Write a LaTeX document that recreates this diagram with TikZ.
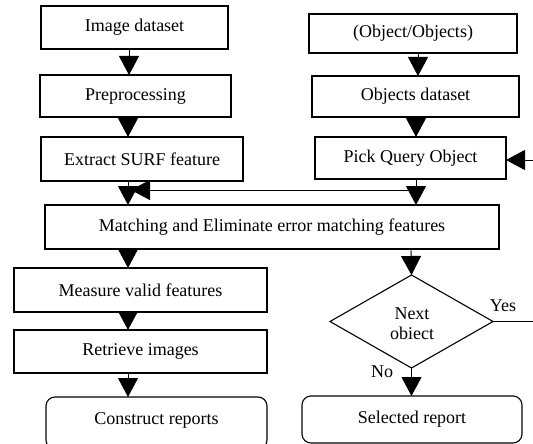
\documentclass[tikz,border=0pt]{standalone}
\usepackage{fontspec}
\setmainfont{Liberation Serif}
\usetikzlibrary{arrows.meta,shapes.geometric}
\begin{document}
\begin{tikzpicture}[x=1pt,y=-1pt,
  every node/.style={font=\fontsize{18}{20}\selectfont, inner sep=0pt, outer sep=0pt},
  box/.style={draw, line width=2.6pt, align=center},
  rbox/.style={draw, line width=1.1pt, rounded corners=9pt, align=center},
  arr/.style={line width=0.9pt, -{Triangle[length=19pt,width=20pt]}},
  plain/.style={line width=0.9pt}]
\useasboundingbox (0,0) rectangle (533,444);
\node[box, minimum width=187pt, minimum height=43pt] (img) at (134.5,27.5) {Image dataset};
\node[box, minimum width=191pt, minimum height=42pt] (pre) at (135.5,96) {Preprocessing};
\node[box, minimum width=202pt, minimum height=44pt] (surf) at (142,159) {Extract SURF feature};
\node[box, minimum width=208pt, minimum height=39pt] (obj) at (413,33.5) {(Object/Objects)};
\node[box, minimum width=207pt, minimum height=41pt] (objd) at (415.5,96.5) {Objects dataset};
\node[box, minimum width=191pt, minimum height=42pt] (pick) at (410.5,158) {Pick Query Object};
\node[box, minimum width=454pt, minimum height=44pt] (match) at (272,227) {Matching and Eliminate error matching features};
\node[box, minimum width=253pt, minimum height=44pt] (meas) at (140.5,290) {Measure valid features};
\node[box, minimum width=253pt, minimum height=43pt] (retr) at (140.5,351.5) {Retrieve images};
\node[rbox, minimum width=221pt, minimum height=52pt] (cons) at (156.5,423) {};
\node (consT) at (156.5,420) {Construct reports};
\node[rbox, minimum width=220pt, minimum height=47pt] (sel) at (412,419.5) {Selected report};
\node[diamond, draw, line width=1.1pt, aspect=1.75, minimum width=163pt, minimum height=93pt, align=center] (dia) at (411.5,321.5) {};
\node[align=center] (diaT) at (412,324) {Next\\obiect};
\node (yes) at (503,306) {Yes};
\node (no) at (382,372) {No};
% connectors
\draw[arr] ([xshift=-5.5pt]img.south) -- ([xshift=-5.5pt]img.south |- pre.north);
\draw[arr] ([xshift=-7.5pt]pre.south) -- ([xshift=-7.5pt]pre.south |- surf.north);
\draw[arr] ([xshift=5pt]obj.south) -- ([xshift=5pt]obj.south |- objd.north);
\draw[arr] ([xshift=0.5pt]objd.south) -- ([xshift=0.5pt]objd.south |- pick.north);
\draw[arr] ([xshift=-14pt]surf.south) -- ([xshift=-14pt]surf.south |- match.north);
\draw[arr] ([xshift=5.5pt]pick.south) -- ([xshift=5.5pt]pick.south |- match.north);
\coordinate (j) at (416,190);
\coordinate (jt) at (131,190);
\draw[arr] (j) -- (jt);
\draw[arr] ([xshift=-144pt]match.south) -- ([xshift=-144pt]match.south |- meas.north);
\draw[arr] ([xshift=139pt]match.south) -- (dia.north);
\draw[arr] ([xshift=-12.5pt]meas.south) -- ([xshift=-12.5pt]meas.south |- retr.north);
\draw[arr] ([xshift=-12.5pt]retr.south) -- ([xshift=-12.5pt]retr.south |- cons.north);
\draw[arr] (dia.south) -- (dia.south |- sel.north);
\coordinate (yesend) at (533,321.5);
\draw[plain] (dia.east) -- (yesend);
\coordinate (inr) at (533,160);
\draw[arr] (inr) -- (inr -| pick.east);
\end{tikzpicture}
\end{document}
